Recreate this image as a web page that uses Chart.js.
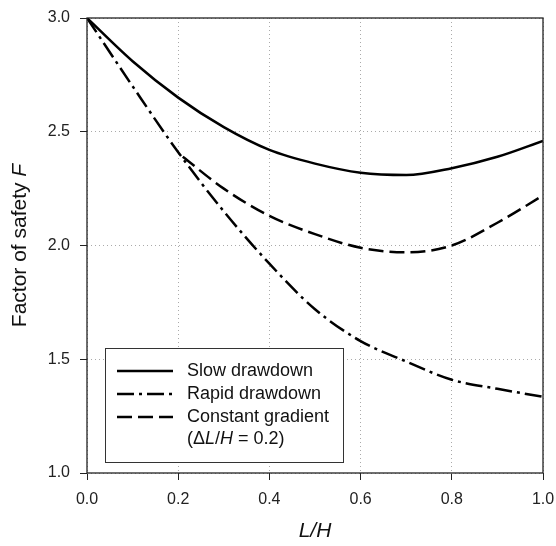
<!DOCTYPE html>
<html><head><meta charset="utf-8">
<script src="https://cdn.jsdelivr.net/npm/chart.js@4/dist/chart.umd.min.js"></script>
<style>html,body{margin:0;padding:0;background:#fff}#wrap{width:556px;height:546px}</style>
</head><body><div id="wrap"><canvas id="c" width="556" height="546"></canvas></div>
<script>
const lh = [0, 0.1, 0.2, 0.3, 0.4, 0.5, 0.6, 0.7, 0.8, 0.9, 1.0];
const slowDrawdown = [3.0, 2.81, 2.65, 2.52, 2.42, 2.36, 2.32, 2.31, 2.34, 2.39, 2.46];
const rapidDrawdown = [3.0, 2.70, 2.41, 2.15, 1.92, 1.72, 1.58, 1.49, 1.41, 1.37, 1.335];
const constLH = [0.21, 0.3, 0.4, 0.5, 0.6, 0.7, 0.8, 0.9, 1.0];
const constantGradient = [2.39, 2.25, 2.13, 2.05, 1.99, 1.97, 2.00, 2.10, 2.22];
const xTicks = [0, 0.2, 0.4, 0.6, 0.8, 1.0];
const yTicks = [1.0, 1.5, 2.0, 2.5, 3.0];
const seriesNames = ['Slow drawdown', 'Rapid drawdown', 'Constant gradient'];

const FONT = '"Liberation Sans", Arial, sans-serif';
const pts = (xs, ys) => xs.map((x, i) => ({x, y: ys[i]}));
const dashes = [[], [17, 5, 3, 5], [15, 6]];

const frame = {
  id: 'frame',
  afterDraw(chart) {
    const {ctx, chartArea: a} = chart;
    ctx.save();
    ctx.strokeStyle = '#222'; ctx.lineWidth = 1.3;
    ctx.strokeRect(a.left, a.top, a.right - a.left, a.bottom - a.top);
    // legend
    const bx = 105, by = 348, bw = 238, bh = 114;
    ctx.fillStyle = '#fff'; ctx.fillRect(bx, by, bw, bh);
    ctx.strokeStyle = '#333'; ctx.lineWidth = 1;
    ctx.strokeRect(bx + 0.5, by + 0.5, bw, bh);
    const rows = [371, 394, 417];
    ctx.font = '18px ' + FONT; ctx.textBaseline = 'middle'; ctx.textAlign = 'left';
    rows.forEach((ry, i) => {
      ctx.strokeStyle = '#000'; ctx.lineWidth = 2.5; ctx.setLineDash(dashes[i]);
      ctx.beginPath(); ctx.moveTo(117, ry); ctx.lineTo(173, ry); ctx.stroke();
      ctx.setLineDash([]);
      ctx.fillStyle = '#111'; ctx.fillText(seriesNames[i], 187, ry);
    });
    let x = 187; const ry = 439;
    const parts = [['(\u0394', false], ['L', true], ['/', false], ['H', true], [' = 0.2)', false]];
    parts.forEach(([t, it]) => {
      ctx.font = (it ? 'italic ' : '') + '18px ' + FONT;
      ctx.fillText(t, x, ry); x += ctx.measureText(t).width;
    });
    // axis titles
    ctx.fillStyle = '#111';
    ctx.font = '21px ' + FONT;
    const t1 = 'Factor of safety ', t2 = 'F';
    const w1 = ctx.measureText(t1).width;
    ctx.font = 'italic 21px ' + FONT;
    const w2 = ctx.measureText(t2).width;
    ctx.save(); ctx.translate(20, (a.top + a.bottom) / 2); ctx.rotate(-Math.PI / 2);
    ctx.textAlign = 'left';
    ctx.font = '21px ' + FONT; ctx.fillText(t1, -(w1 + w2) / 2, 0);
    ctx.font = 'italic 21px ' + FONT; ctx.fillText(t2, -(w1 + w2) / 2 + w1, 0);
    ctx.restore();
    ctx.font = 'italic 21px ' + FONT; ctx.textAlign = 'center';
    ctx.fillText('L/H', (a.left + a.right) / 2, 531);
    ctx.restore();
  }
};

new Chart(document.getElementById('c'), {
  type: 'scatter',
  data: {
    datasets: [
      {label: seriesNames[0], data: pts(lh, slowDrawdown), borderDash: dashes[0]},
      {label: seriesNames[1], data: pts(lh, rapidDrawdown), borderDash: dashes[1]},
      {label: seriesNames[2], data: pts(constLH, constantGradient), borderDash: dashes[2]}
    ].map(d => Object.assign(d, {showLine: true, borderColor: '#000', borderWidth: 2.5, pointRadius: 0, cubicInterpolationMode: 'monotone', fill: false}))
  },
  options: {
    responsive: false, animation: false,
    layout: {padding: {top: 18, right: 13, left: 0, bottom: 0}},
    plugins: {legend: {display: false}, tooltip: {enabled: false}},
    scales: {
      x: {
        type: 'linear', min: 0, max: 1,
        afterBuildTicks: s => { s.ticks = xTicks.map(v => ({value: v})); },
        afterFit: s => { s.height = 73; s.paddingRight = 0; s.paddingLeft = 0; },
        ticks: {font: {size: 16, family: FONT}, color: '#222', padding: 10, callback: v => v.toFixed(1), maxRotation: 0},
        grid: {color: '#aaa', tickColor: '#222', tickBorderDash: [], tickLength: 7, lineWidth: 1},
        border: {display: false, dash: [1, 3]}
      },
      y: {
        type: 'linear', min: 1, max: 3,
        afterBuildTicks: s => { s.ticks = yTicks.map(v => ({value: v})); },
        afterFit: s => { s.width = 87; s.paddingTop = 0; s.paddingBottom = 0; },
        ticks: {font: {size: 16, family: FONT}, color: '#222', padding: 10, callback: v => v.toFixed(1)},
        grid: {color: '#aaa', tickColor: '#222', tickBorderDash: [], tickLength: 7, lineWidth: 1},
        border: {display: false, dash: [1, 3]}
      }
    }
  },
  plugins: [frame]
});
</script></body></html>
